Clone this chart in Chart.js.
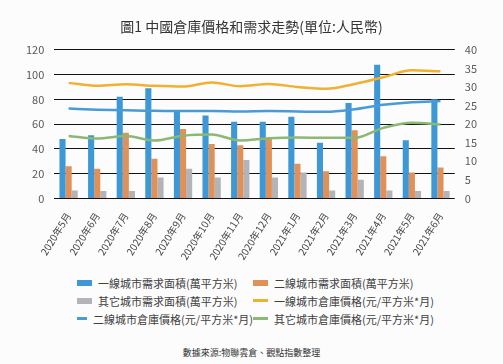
<!DOCTYPE html>
<html>
<head>
<meta charset="utf-8">
<script src="https://cdn.jsdelivr.net/npm/chart.js@4"></script>
<style>
	body { margin:0; background:#fcfcfc; font-family:"Noto Sans CJK TC", sans-serif; }
	#wrap { width:503px; height:364px; position:relative; }
	#box { position:absolute; left:0; top:0; width:503px; height:266px; }
	#legend { position:absolute; left:77px; top:275px; display:grid; grid-template-columns:176px 200px; row-gap:3px; font-size:11px; color:#404040; }
	#legend div { display:flex; align-items:center; height:15px; white-space:nowrap; }
	#legend span.mk { display:inline-block; width:15px; margin-right:6px; }
	#source { position:absolute; left:0; width:503px; top:346px; text-align:center; font-size:9px; color:#333; }
</style>
</head>
<body>
<div id="wrap">
	<div id="box"><canvas id="myChart"></canvas></div>
	<div id="legend"></div>
	<div id="source">數據來源:物聯雲倉、觀點指數整理</div>
</div>
<script>
// datos
const months = ['2020年5月','2020年6月','2020年7月','2020年8月','2020年9月','2020年10月','2020年11月','2020年12月','2021年1月','2021年2月','2021年3月','2021年4月','2021年5月','2021年6月'];

const tier1Area = [48, 51, 82, 89, 71, 67, 62, 62, 66, 45, 77, 108, 47, 80];
const tier2Area = [26, 24, 53, 32, 56, 44, 43, 49, 28, 22, 55, 34, 21, 25];
const otherArea = [6.5, 6, 6, 17, 24, 17, 31, 17, 21, 6.5, 15, 6.5, 6, 6];

const tier1Price = [31.1, 30.3, 30.7, 30.3, 30.1, 31.2, 30.2, 30.8, 30.0, 29.5, 30.8, 32.6, 34.5, 34.2];
const tier2Price = [24.2, 23.9, 23.7, 23.6, 23.5, 23.5, 23.4, 23.5, 23.4, 23.3, 24.0, 25.2, 25.9, 26.2];
const otherPrice = [16.8, 16.1, 16.8, 15.6, 16.9, 17.2, 15.6, 16.2, 16.4, 16.3, 16.3, 19.0, 20.4, 19.9];

const leftTicks = { min: 0, max: 120, step: 20 };
const rightTicks = { min: 0, max: 40, step: 5 };

const colors = {
	blue: '#3f98d6',
	orange: '#e0915a',
	gray: '#b2b4b8',
	yellow: '#f1b030',
	lineBlue: '#4a9ad6',
	green: '#8bb872'
};

const series = [
	{ label: '一線城市需求面積(萬平方米)', data: tier1Area, color: colors.blue, type: 'bar' },
	{ label: '二線城市需求面積(萬平方米)', data: tier2Area, color: colors.orange, type: 'bar' },
	{ label: '其它城市需求面積(萬平方米)', data: otherArea, color: colors.gray, type: 'bar' },
	{ label: '一線城市倉庫價格(元/平方米*月)', data: tier1Price, color: colors.yellow, type: 'line' },
	{ label: '二線城市倉庫價格(元/平方米*月)', data: tier2Price, color: colors.lineBlue, type: 'line' },
	{ label: '其它城市倉庫價格(元/平方米*月)', data: otherPrice, color: colors.green, type: 'line' }
];

const datasets = series.map(s => {
	if (s.type === 'bar') {
		return {
			type: 'bar', label: s.label, data: s.data, yAxisID: 'y',
			backgroundColor: s.color, barPercentage: 1, categoryPercentage: 0.64, order: 2
		};
	}
	return {
		type: 'line', label: s.label, data: s.data, yAxisID: 'y1',
		borderColor: s.color, backgroundColor: s.color, borderWidth: 2.5,
		pointRadius: 0, tension: 0.4, cubicInterpolationMode: 'monotone', order: 1
	};
});

const tickFont = { family: '"Noto Sans CJK TC", "Open Sans", sans-serif', size: 11 };

new Chart(document.getElementById('myChart'), {
	data: { labels: months, datasets: datasets },
	options: {
		responsive: true,
		maintainAspectRatio: false,
		animation: false,
		layout: { padding: { left: 16, right: 16, top: 0, bottom: 0 } },
		plugins: {
			legend: { display: false },
			tooltip: { enabled: false },
			title: {
				display: true,
				text: '圖1 中國倉庫價格和需求走勢(單位:人民幣)',
				color: '#333',
				font: { family: '"Noto Sans CJK TC", sans-serif', size: 14, weight: 'normal' },
				padding: { top: 18, bottom: 15 }
			}
		},
		scales: {
			x: {
				grid: { display: false },
				border: { display: false },
				ticks: {
					color: '#444', font: { family: '"Noto Sans CJK TC", sans-serif', size: 10 },
					minRotation: 58, maxRotation: 58, autoSkip: false, padding: 4
				}
			},
			y: {
				position: 'left',
				min: leftTicks.min, max: leftTicks.max,
				ticks: { stepSize: leftTicks.step, color: '#595959', font: tickFont, padding: 10 },
				grid: { color: '#111', lineWidth: 1, drawTicks: false },
				border: { display: false }
			},
			y1: {
				position: 'right',
				min: rightTicks.min, max: rightTicks.max,
				ticks: { stepSize: rightTicks.step, color: '#595959', font: tickFont, padding: 10 },
				grid: { display: false, drawTicks: false },
				border: { display: false }
			}
		}
	}
});

// leyenda en dos columnas
const legend = document.getElementById('legend');
series.forEach(s => {
	const item = document.createElement('div');
	const h = s.type === 'bar' ? 6 : 3;
	item.innerHTML = `<span class="mk" style="height:${h}px;background:${s.color}"></span>${s.label}`;
	legend.appendChild(item);
});
</script>
</body>
</html>
